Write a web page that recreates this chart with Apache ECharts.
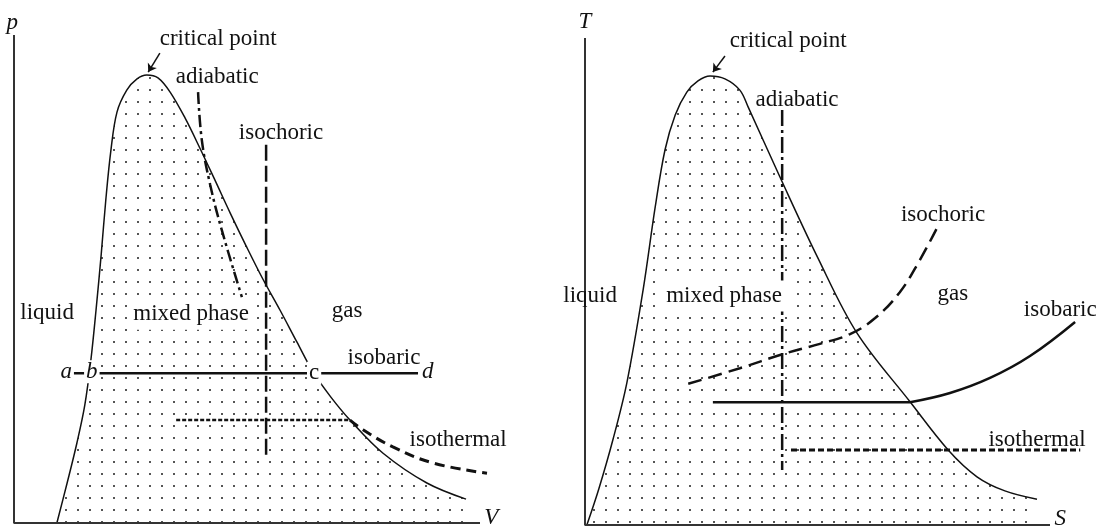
<!DOCTYPE html>
<html>
<head>
<meta charset="utf-8">
<script src="https://cdn.jsdelivr.net/npm/echarts@6/dist/echarts.min.js"></script>
<style>
  html, body { margin: 0; padding: 0; background: #fff; }
  #chart { width: 1105px; height: 529px; }
</style>
</head>
<body>
<div id="chart"></div>
<script>
// ---- p–V diagram (left), both axes in arbitrary units (axes drawn over 0–100) ----
const pvDome = [[9.2,0],[11.4,8.2],[13.5,16.4],[15.2,24.2],[16.5,33.4],[17.6,43.6],[18.7,54.9],
  [19.7,66.2],[20.8,76.4],[22.1,84.2],[24.2,88.7],[26.4,91.0],[28.5,91.8],[30.9,91.2],[33.5,88.3],
  [36.7,83.0],[39.9,76.8],[43.1,70.3],[46.4,63.5],[49.8,56.8],[53.4,50.0],[57.1,43.6],[60.7,37.1],
  [64.2,30.9],[68.0,25.8],[72.1,21.1],[79.2,14.3],[88.6,8.2],[97.0,4.9]];
const pvAdiabatic = [[39.5,88.3],[40.3,78.5],[42.1,69.3],[44.6,60.0],[48.9,46.3]];
const pvIsochoric = [[54.1,77.5],[54.1,13.3]];
const pvIsobaric = [[12.4,30.7],[86.7,30.7]];
const pvIsothermalMixed = [[34.8,21.1],[72.1,21.1]];
const pvIsothermalGas = [[72.1,21.1],[74.9,19.1],[81.3,15.6],[89.9,12.3],[101.5,10.2]];
const pvCritical = [[31.3,96.3],[28.8,92.4]];
const pvFrame = [[0,100],[0,0],[100,0]];
const pvNotes = [
  ['critical point', 43.8, 99.2], ['adiabatic', 43.6, 91.4], ['isochoric', 57.3, 79.9],
  ['liquid', 7.1, 43.0], ['mixed phase', 38.0, 42.8], ['gas', 71.5, 43.4],
  ['isobaric', 79.4, 33.8], ['isothermal', 95.3, 17.0]
];
const pvAxisNames = [['p', -0.4, 102.5], ['V', 102.4, 1.0]];
const pvPoints = [['a', 11.2, 31.0], ['b', 16.7, 31.0], ['c', 64.4, 30.7], ['d', 88.8, 31.0]];

// ---- T–S diagram (right) ----
const tsDome = [[0.4,0],[3.0,7.5],[6.0,17.5],[9.0,29.2],[12.5,48.3],[15.1,65.3],[17.2,77.0],
  [19.4,84.2],[21.9,88.9],[24.3,91.2],[26.9,92.2],[30.1,91.6],[33.3,89.3],[35.1,85.8],[41.9,71.5],
  [50.1,54.8],[58.5,39.4],[69.9,25.3],[78.1,15.4],[84.3,9.9],[90.3,7.0],[97.2,5.3]];
const tsAdiabatic = [[42.4,85.2],[42.4,11.3]];
const tsIsochoric = [[22.2,29.0],[33.3,32.2],[42.6,35.1],[50.5,37.2],[57.0,39.2],[62.4,42.5],
  [67.7,47.8],[72.0,54.4],[75.7,61.0]];
const tsIsobaricMixed = [[27.5,25.2],[69.9,25.2]];
const tsIsobaricGas = [[69.9,25.2],[78.5,27.1],[87.1,30.2],[95.7,34.7],[105.4,41.7]];
const tsIsothermal = [[44.3,15.4],[106.5,15.4]];
const tsCritical = [[30.1,96.3],[27.5,93.0]];
const tsFrame = [[0,100],[0,0],[100,0]];
const tsNotes = [
  ['critical point', 43.7, 99.4], ['adiabatic', 45.6, 87.3], ['isochoric', 77.0, 63.7],
  ['liquid', 1.1, 47.0], ['mixed phase', 29.9, 47.0], ['gas', 79.1, 47.4],
  ['isobaric', 102.2, 44.1], ['isothermal', 97.2, 17.5]
];
const tsAxisNames = [['T', 0, 103.3], ['S', 102.2, 1.2]];

const SERIF = '"Liberation Serif", "Times New Roman", serif';
const INK = '#111';

// stipple used to shade the two-phase region
const dots = document.createElement('canvas');
dots.width = 12; dots.height = 12;
const dctx = dots.getContext('2d');
dctx.fillStyle = '#555';
dctx.fillRect(5, 5, 2, 2);

// value axes with no visible furniture; the frame is drawn as a series so that
// curves may run a little past the end of the horizontal axis
function axis(gridIndex, max) {
  return { type: 'value', min: 0, max, gridIndex,
    axisLine: { show: false }, axisTick: { show: false }, axisLabel: { show: false },
    splitLine: { show: false } };
}

function dome(data, idx) {
  return { type: 'line', xAxisIndex: idx, yAxisIndex: idx, data, smooth: 0.35,
    symbol: 'none', silent: true, z: 2,
    lineStyle: { color: INK, width: 1.5 },
    areaStyle: { color: { image: dots, repeat: 'repeat' }, opacity: 1 } };
}

function path(data, idx, width, type, smooth, color) {
  return { type: 'line', xAxisIndex: idx, yAxisIndex: idx, data, smooth: smooth || false,
    symbol: 'none', silent: true, clip: false, z: 4,
    lineStyle: { color: color || INK, width, type } };
}

function arrow(coords, idx) {
  return { type: 'lines', coordinateSystem: 'cartesian2d', xAxisIndex: idx, yAxisIndex: idx,
    silent: true, z: 5, symbol: ['none', 'arrow'], symbolSize: 8,
    lineStyle: { color: INK, width: 1.5, opacity: 1 },
    data: [{ coords }] };
}

function notes(list, idx, extra) {
  return { type: 'scatter', xAxisIndex: idx, yAxisIndex: idx, symbolSize: 0, silent: true,
    clip: false, z: 10, itemStyle: { opacity: 1 },
    label: { show: true, position: 'inside', formatter: '{b}', color: INK,
      fontFamily: SERIF, fontSize: 23, textBorderWidth: 0 },
    data: list.map(n => ({ name: n[0], value: [n[1], n[2]], label: extra ? extra(n[0]) : {} })) };
}

const boxed = { 'mixed phase': true };
const italic = () => ({ fontStyle: 'italic' });

const option = {
  animation: false,
  backgroundColor: '#fff',
  grid: [
    { left: 14, top: 35, width: 4.66 * 104, height: 488 },
    { left: 585, top: 38, width: 4.65 * 108, height: 487 }
  ],
  xAxis: [axis(0, 104), axis(1, 108)],
  yAxis: [axis(0, 100), axis(1, 100)],
  series: [
    dome(pvDome, 0),
    path(pvFrame, 0, 2, 'solid', false, '#333'),
    path(pvAdiabatic, 0, 2.5, [12, 4, 3, 4], 0.4),
    path(pvIsochoric, 0, 2.5, [16, 5]),
    path(pvIsobaric, 0, 2.5, 'solid'),
    path(pvIsothermalMixed, 0, 2.5, [4, 2]),
    path(pvIsothermalGas, 0, 3, [10, 6], 0.4),
    arrow(pvCritical, 0),
    notes(pvNotes, 0, n => boxed[n] ? { backgroundColor: '#fff', padding: [4, 6] } : {}),
    notes(pvAxisNames, 0, italic),
    notes(pvPoints, 0, n => Object.assign({ backgroundColor: '#fff', padding: [0, 2] },
      n === 'c' ? {} : { fontStyle: 'italic' })),

    dome(tsDome, 1),
    path(tsFrame, 1, 2, 'solid', false, '#333'),
    path(tsAdiabatic, 1, 2.5, [16, 4, 3, 4]),
    path(tsIsochoric, 1, 2.5, [14, 7], 0.4),
    path(tsIsobaricMixed, 1, 2.5, 'solid'),
    path(tsIsobaricGas, 1, 2.5, 'solid', 0.4),
    path(tsIsothermal, 1, 3, [6, 3]),
    arrow(tsCritical, 1),
    notes(tsNotes, 1, n => boxed[n] ? { backgroundColor: '#fff', padding: [4, 6] } : {}),
    notes(tsAxisNames, 1, italic)
  ]
};

const chart = echarts.init(document.getElementById('chart'), null, { renderer: 'canvas' });
chart.setOption(option);
</script>
</body>
</html>
